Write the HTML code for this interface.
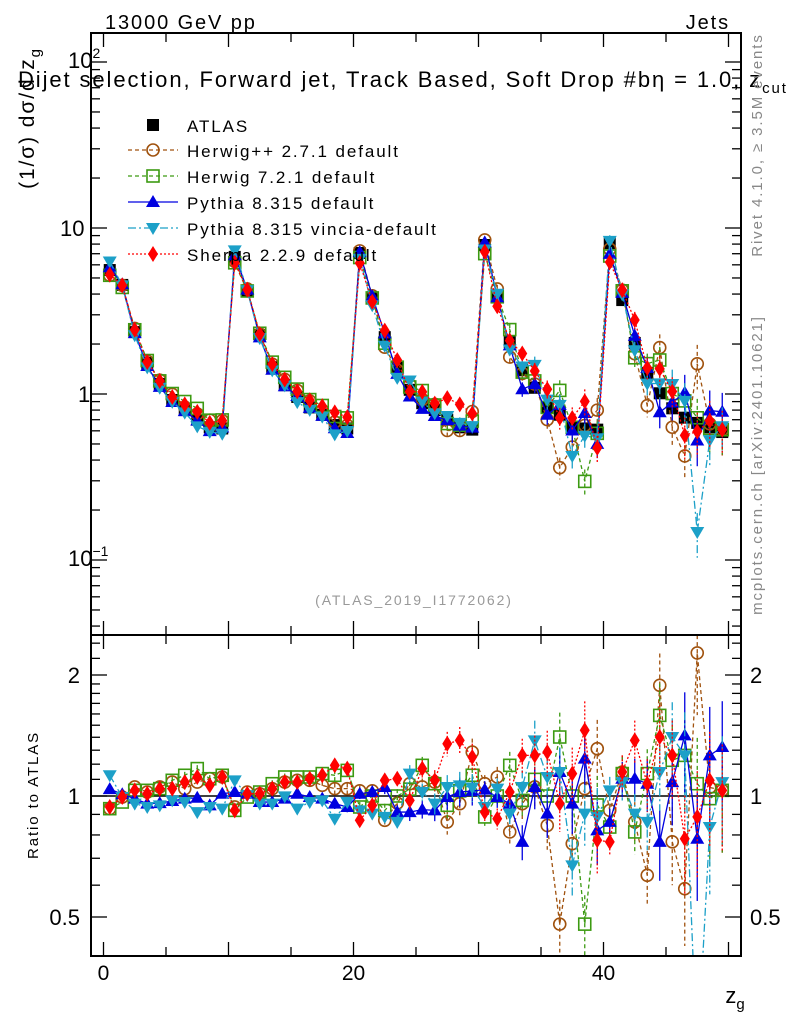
<!DOCTYPE html>
<html><head><meta charset="utf-8"><style>
html,body{margin:0;background:#fff;width:786px;height:1024px;overflow:hidden}
svg{display:block;font-family:"Liberation Sans",sans-serif}
.w{letter-spacing:1.9px}
</style></head><body>
<svg id="c" width="786" height="1024" xmlns="http://www.w3.org/2000/svg">
<g id="plot"></g>
<text class="w" x="105" y="29" font-size="20">13000 GeV pp</text>
<text class="w" x="730" y="29" font-size="20" text-anchor="end">Jets</text>
<text class="w" x="18" y="87" font-size="22">Dijet selection, Forward jet, Track Based, Soft Drop #bη = 1.0, z<tspan font-size="15" dy="6">cut</tspan><tspan dy="-6"> = 0.1</tspan></text>
<text class="w" transform="translate(34,118) rotate(-90)" font-size="21" text-anchor="middle">(1/σ) dσ/d z<tspan font-size="15" dy="6">g</tspan></text>
<text class="w" transform="translate(38,795) rotate(-90)" font-size="15" text-anchor="middle">Ratio to ATLAS</text>
<text x="735" y="1003" font-size="22" text-anchor="middle">z<tspan font-size="15" dy="6">g</tspan></text>
<text class="w" transform="translate(762,145) rotate(-90)" font-size="15" fill="#888" text-anchor="middle">Rivet 4.1.0, ≥ 3.5M events</text>
<text class="w" transform="translate(762,465) rotate(-90)" font-size="15" fill="#888" text-anchor="middle">mcplots.cern.ch [arXiv:2401.10621]</text>
<text class="w" x="414" y="605" font-size="14" fill="#999" text-anchor="middle">(ATLAS_2019_I1772062)</text>
</svg>
<script>
const atlas=[5.58,4.54,2.36,1.54,1.15,0.92,0.80,0.70,0.63,0.62, 6.7,4.2,2.27,1.45,1.13,0.96,0.83,0.75,0.65,0.62, 7.07,3.79,2.20,1.45,1.06,0.88,0.80,0.70,0.63,0.61, 7.9,3.85,2.05,1.39,1.09,0.83,0.75,0.63,0.62,0.61, 8.1,3.68,2.03,1.34,1.01,0.82,0.72,0.67,0.63,0.59];
const herwigpp=[0.93,0.994,1.053,1.023,1.053,1.083,1.043,1.083,1.104,1.115, 0.939,1.023,1.013,1.043,1.083,1.094,1.094,1.063,1.043,1.043, 1.03,1.03,0.87,0.96,1.073,1.053,1.083,0.862,0.957,1.286, 1.073,1.115,0.814,0.957,1.053,0.845,0.48,0.761,1.043,1.311, 0.921,1.147,0.862,0.635,1.885,0.769,0.588,2.27,1.05,1.033];
const herwig7=[0.93,0.966,1.033,1.033,1.043,1.094,1.126,1.17,1.104,1.126, 0.921,0.994,1.023,1.073,1.115,1.115,1.115,1.137,1.126,1.158, 0.939,1.0,0.92,1.0,1.04,1.192,1.073,0.948,1.03,1.126, 0.887,1.0,1.192,0.975,1.1,1.0,1.402,1.0,0.48,0.95, 0.837,1.137,0.814,1.137,1.587,1.227,1.262,1.073,0.985,1.033];
const pythia=[1.04,1.01,0.985,0.957,0.96,0.972,0.985,0.99,0.948,1.013, 1.023,1.013,0.966,0.966,0.985,1.013,0.994,0.985,0.957,0.939, 1.013,1.023,1.053,0.912,0.912,0.925,0.921,0.994,1.023,1.029, 1.037,0.994,0.957,0.769,1.053,0.904,1.147,0.957,1.239,0.821, 0.862,1.104,1.104,1.073,0.769,1.083,1.415,0.783,1.262,1.324];
const vincia=[1.126,0.994,0.957,0.939,0.948,0.975,0.966,0.912,0.939,0.93, 1.094,1.004,0.957,0.957,0.998,0.93,0.966,0.975,0.878,0.966, 0.921,0.904,0.887,0.862,1.137,1.023,0.957,1.053,1.063,1.05, 0.939,1.043,0.904,1.053,1.375,1.115,1.147,0.672,0.904,0.887, 1.033,1.083,0.904,0.862,1.147,1.402,1.262,0.22,0.837,1.083];
const sherpa=[0.939,0.994,1.033,1.013,1.043,1.043,1.083,1.115,1.063,1.115, 0.921,1.013,1.013,1.043,1.083,1.083,1.104,1.126,1.192,1.17, 0.87,0.948,1.094,1.104,0.975,1.17,1.094,1.349,1.375,1.25, 0.912,0.878,1.023,1.262,1.262,1.286,0.957,1.137,1.457,0.776, 0.769,1.147,1.375,1.073,1.402,1.262,0.783,0.887,1.094,1.033];
const relErr=[0.02,0.02,0.02,0.02,0.02,0.02,0.02,0.02,0.02,0.02, 0.02,0.02,0.02,0.02,0.02,0.02,0.02,0.02,0.03,0.03, 0.03,0.03,0.04,0.04,0.05,0.05,0.06,0.07,0.08,0.08, 0.05,0.06,0.08,0.1,0.12,0.13,0.15,0.16,0.18,0.18, 0.08,0.1,0.12,0.15,0.2,0.22,0.28,0.3,0.32,0.3];
const xTicks=[0,20,40];

const NS="http://www.w3.org/2000/svg";
const plot=document.getElementById('plot');
const L=91,R=741,T=33,MB=635,RB=956;
const sx=z=>L+(z+1)*(R-L)/52;
const sy=v=>228-166*Math.log10(v/10);
const ry=r=>796-121*Math.log2(r);
function mk(tag,a,parent){const e=document.createElementNS(NS,tag);for(const k in a)e.setAttribute(k,a[k]);(parent||plot).appendChild(e);return e;}

const defs=mk('defs',{});
const c1=mk('clipPath',{id:'cm'},defs);mk('rect',{x:L,y:T,width:R-L,height:MB-T},c1);
const c2=mk('clipPath',{id:'cr'},defs);mk('rect',{x:L,y:MB,width:R-L,height:RB-MB},c2);

function marker(g,type,x,y,col){
  let e;
  if(type==='sq'){e=mk('rect',{x:x-6,y:y-6,width:12,height:12,fill:col},g);}
  else if(type==='circ'){e=mk('circle',{cx:x,cy:y,r:6,fill:'none',stroke:col,'stroke-width':1.6},g);}
  else if(type==='osq'){e=mk('rect',{x:x-6,y:y-6,width:12,height:12,fill:'none',stroke:col,'stroke-width':1.6},g);}
  else if(type==='tri'){e=mk('polygon',{points:`${x},${y-7} ${x-7},${y+5} ${x+7},${y+5}`,fill:col},g);}
  else if(type==='itri'){e=mk('polygon',{points:`${x},${y+7} ${x-7},${y-5} ${x+7},${y-5}`,fill:col},g);}
  else {e=mk('polygon',{points:`${x},${y-8} ${x-5},${y} ${x},${y+8} ${x+5},${y}`,fill:col},g);}
  return e;
}
const series=[
 {name:'herwigpp',data:herwigpp,col:'#a0520e',m:'circ',dash:'4,3',label:'Herwig++ 2.7.1 default'},
 {name:'herwig7',data:herwig7,col:'#3c9a12',m:'osq',dash:'4,3',label:'Herwig 7.2.1 default'},
 {name:'pythia',data:pythia,col:'#0000e0',m:'tri',dash:'',label:'Pythia 8.315 default'},
 {name:'vincia',data:vincia,col:'#1ca0c8',m:'itri',dash:'8,3,2,3',label:'Pythia 8.315 vincia-default'},
 {name:'sherpa',data:sherpa,col:'#ff0000',m:'dia',dash:'2,2',label:'Sherpa 2.2.9 default'}
];

const rl=mk('line',{x1:L,x2:R,y1:ry(1),y2:ry(1),stroke:'#000','stroke-width':1.5});



const ga=mk('g',{'clip-path':'url(#cm)'});


atlas.forEach((v,i)=>{const x=sx(i+0.5);const m=marker(ga,'sq',x,sy(v),'#000');
 
 });

series.forEach(s=>{
 const gm=mk('g',{'clip-path':'url(#cm)'});
 
 
 const gr=mk('g',{'clip-path':'url(#cr)'});
 
 
 let pm='',pr='';
 s.data.forEach((r,i)=>{const x=sx(i+0.5);const v=atlas[i]*r;
   pm+=(i?'L':'M')+x+','+sy(v);pr+=(i?'L':'M')+x+','+ry(r);});
 mk('path',{d:pm,fill:'none',stroke:s.col,'stroke-width':1.3,'stroke-dasharray':s.dash},gm);
 mk('path',{d:pr,fill:'none',stroke:s.col,'stroke-width':1.3,'stroke-dasharray':s.dash},gr);
 s.data.forEach((r,i)=>{const x=sx(i+0.5);const v=atlas[i]*r;const e=relErr[i];
   mk('line',{x1:x,x2:x,y1:sy(v*(1+e)),y2:sy(Math.max(v*(1-e),1e-3)),stroke:s.col,'stroke-width':1.3,'stroke-dasharray':s.dash},gm);
   mk('line',{x1:x,x2:x,y1:ry(r*(1+e)),y2:ry(Math.max(r*(1-e),1e-3)),stroke:s.col,'stroke-width':1.3,'stroke-dasharray':s.dash},gr);
   const a=marker(gm,s.m,x,sy(v),s.col);
   
   
   const b=marker(gr,s.m,x,ry(r),s.col);
   
   
 });
});

[[T,MB],[MB,RB]].forEach(([a,b],k)=>{const f=mk('rect',{x:L,y:a,width:R-L,height:b-a,fill:'none',stroke:'#000','stroke-width':2});
 
 });
for(let z=0;z<=50;z+=5){const x=sx(z);const len=z%10?9:14;
 [[T,1],[MB,-1],[MB,1],[RB,-1]].forEach(([y,d])=>mk('line',{x1:x,x2:x,y1:y,y2:y+d*len,stroke:'#000','stroke-width':1.3}));}
xTicks.forEach(z=>{const t=mk('text',{x:sx(z),y:980,'font-size':21,'text-anchor':'middle'});t.textContent=z;
 
 });
for(let d=-2;d<=2;d++)for(let m=1;m<=9;m++){const v=m*Math.pow(10,d);const y=sy(v);if(y<T||y>MB)continue;const len=m===1?16:9;
 mk('line',{x1:L,x2:L+len,y1:y,y2:y,stroke:'#000','stroke-width':1.3});mk('line',{x1:R,x2:R-len,y1:y,y2:y,stroke:'#000','stroke-width':1.3});}
[['10','2',100],['10','',10],['1','',1],['10','−1',0.1]].forEach(([b,e,v])=>{const t=mk('text',{x:e?68:(b==='1'?78:60),y:sy(v)+(e?6:8),'font-size':22});t.textContent=b;
 if(e){const s=mk('tspan',{dy:-10,'font-size':14},t);s.textContent=e;}
 
 });
[0.4,0.5,0.6,0.7,0.8,0.9,1,1.1,1.2,1.3,1.4,1.5,1.6,1.7,1.8,1.9,2,2.2,2.4].forEach(v=>{const y=ry(v);if(y<MB||y>RB)return;const len=[0.5,1,2].includes(v)?16:9;
 mk('line',{x1:L,x2:L+len,y1:y,y2:y,stroke:'#000','stroke-width':1.3});mk('line',{x1:R,x2:R-len,y1:y,y2:y,stroke:'#000','stroke-width':1.3});});
[[2,'2'],[1,'1'],[0.5,'0.5']].forEach(([v,s])=>{[[80,'end'],[750,'start']].forEach(([x,a])=>{const t=mk('text',{x:x,y:ry(v)+8,'font-size':22,'text-anchor':a});t.textContent=s;
 
 });});
const lg=mk('g',{});


const ly=[125,150,176,202,228,254];
marker(lg,'sq',153,ly[0],'#000');
const t0=mk('text',{x:187,y:ly[0]+7,'font-size':17,'class':'w'},lg);t0.textContent='ATLAS';
series.forEach((s,i)=>{const y=ly[i+1];
 mk('line',{x1:128,x2:178,y1:y,y2:y,stroke:s.col,'stroke-width':1.3,'stroke-dasharray':s.dash},lg);
 marker(lg,s.m,153,y,s.col);
 const t=mk('text',{x:187,y:y+7,'font-size':17,'class':'w'},lg);t.textContent=s.label;
 
 });
</script>
</body></html>
